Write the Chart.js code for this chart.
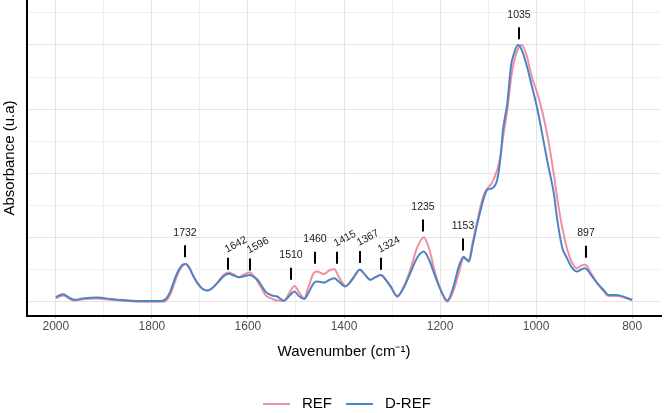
<!DOCTYPE html>
<html>
<head>
<meta charset="utf-8">
<script src="https://cdn.jsdelivr.net/npm/chart.js"></script>
<style>
  html, body { margin: 0; padding: 0; background: #fff; }
</style>
</head>
<body>
<canvas id="chart" width="664" height="413"></canvas>
<script>
// spectra, normalised so that the 1035 band = 1
const wavenumbers = [2000, 1985, 1970, 1961, 1944, 1913, 1885, 1850, 1816, 1781, 1771, 1762, 1753, 1744, 1736, 1730,
    1722, 1714, 1705, 1695, 1684, 1674, 1664, 1652, 1640, 1630, 1619, 1606, 1596, 1588, 1580, 1570, 1563, 1550, 1539,
    1525, 1514, 1503, 1494, 1483, 1474, 1463, 1456, 1442, 1430, 1420, 1411, 1397, 1382, 1367, 1356, 1345, 1334, 1323,
    1313, 1303, 1289, 1276, 1262, 1248, 1234, 1222, 1210, 1197, 1185, 1173, 1161, 1151, 1140, 1132, 1123, 1110, 1102,
    1092, 1081, 1074, 1069, 1060, 1052, 1047, 1038, 1030, 1019, 1010, 997, 987, 976, 962, 958, 946, 936, 925, 915, 907,
    898, 886, 873, 860, 849, 832, 815, 800];

const refValues = [0.014, 0.025, 0.010, 0.005, 0.010, 0.013, 0.008, 0.003, 0.000, 0.000, 0.004, 0.027, 0.073, 0.117,
    0.140, 0.147, 0.134, 0.103, 0.073, 0.051, 0.044, 0.054, 0.074, 0.103, 0.114, 0.107, 0.096, 0.109, 0.114, 0.101,
    0.079, 0.047, 0.025, 0.012, 0.005, 0.004, 0.035, 0.062, 0.039, 0.014, 0.058, 0.112, 0.118, 0.108, 0.123, 0.127,
    0.098, 0.062, 0.091, 0.125, 0.105, 0.086, 0.097, 0.105, 0.086, 0.060, 0.019, 0.058, 0.125, 0.210, 0.252, 0.202,
    0.112, 0.039, 0.000, 0.039, 0.112, 0.169, 0.163, 0.233, 0.311, 0.412, 0.440, 0.463, 0.514, 0.572, 0.638, 0.747,
    0.872, 0.926, 0.984, 1.000, 0.954, 0.883, 0.809, 0.739, 0.642, 0.482, 0.428, 0.292, 0.210, 0.152, 0.131, 0.140,
    0.144, 0.113, 0.074, 0.043, 0.023, 0.023, 0.016, 0.006];

const drefValues = [0.018, 0.030, 0.014, 0.008, 0.013, 0.017, 0.011, 0.005, 0.003, 0.003, 0.011, 0.039, 0.086, 0.125,
    0.144, 0.147, 0.132, 0.101, 0.073, 0.051, 0.044, 0.054, 0.073, 0.097, 0.109, 0.103, 0.096, 0.101, 0.105, 0.097,
    0.086, 0.058, 0.039, 0.025, 0.021, 0.004, 0.023, 0.040, 0.023, 0.011, 0.035, 0.073, 0.079, 0.075, 0.086, 0.092,
    0.079, 0.060, 0.089, 0.125, 0.105, 0.086, 0.097, 0.105, 0.086, 0.060, 0.023, 0.054, 0.112, 0.171, 0.196, 0.160,
    0.098, 0.039, 0.005, 0.054, 0.137, 0.176, 0.157, 0.222, 0.300, 0.397, 0.436, 0.442, 0.475, 0.564, 0.669, 0.774,
    0.922, 0.961, 1.000, 0.981, 0.916, 0.848, 0.747, 0.650, 0.541, 0.409, 0.346, 0.214, 0.171, 0.132, 0.118, 0.125,
    0.131, 0.105, 0.073, 0.047, 0.027, 0.027, 0.018, 0.008];

const xGridBreaks = [800, 900, 1000, 1100, 1200, 1300, 1400, 1500, 1600, 1700, 1800, 1900, 2000];
const xTickLabels = [800, 1000, 1200, 1400, 1600, 1800, 2000];
const yGridBreaks = [0, 0.125, 0.25, 0.375, 0.5, 0.625, 0.75, 0.875, 1, 1.125];
const yMajorBreaks = [0, 0.25, 0.5, 0.75, 1];

// band markers: label, height of the marker foot, slanted or not
const peakLabels = ['1732', '1642', '1596', '1510', '1460', '1415', '1367', '1324', '1235', '1153', '1035', '897'];
const peakHeights = [0.174, 0.125, 0.122, 0.086, 0.148, 0.148, 0.151, 0.125, 0.274, 0.200, 1.022, 0.172];
const peakSlanted = [false, true, true, false, false, true, true, true, false, false, false, false];

const seriesNames = ['REF', 'D-REF'];
const seriesColors = ['#ef8fa3', '#4f84c2'];

const FONT = "'Liberation Sans', Arial, sans-serif";
const GRID_MAJOR = '#e4e4e4';
const GRID_MINOR = '#f0f0f0';

function toPoints(values) {
    return wavenumbers.map((w, i) => ({x: w, y: values[i]}));
}

function isIn(list, v) {
    return list.some(b => Math.abs(b - v) < 1e-6);
}

const peakMarks = {
    id: 'peakMarks',
    afterDatasetsDraw(chart) {
        const ctx = chart.ctx;
        const x = chart.scales.x, y = chart.scales.y;
        ctx.save();
        ctx.strokeStyle = '#000';
        ctx.fillStyle = '#1a1a1a';
        ctx.lineWidth = 2;
        ctx.font = '10.5px ' + FONT;
        peakLabels.forEach((label, i) => {
            const px = Math.round(x.getPixelForValue(Number(label)));
            const foot = y.getPixelForValue(peakHeights[i]);
            const top = foot - 12;
            ctx.beginPath();
            ctx.moveTo(px, foot);
            ctx.lineTo(px, top);
            ctx.stroke();
            if (peakSlanted[i]) {
                ctx.save();
                ctx.translate(px - 1, top - 5);
                ctx.rotate(-28 * Math.PI / 180);
                ctx.textAlign = 'left';
                ctx.textBaseline = 'alphabetic';
                ctx.fillText(label, 0, 0);
                ctx.restore();
            } else {
                ctx.textAlign = 'center';
                ctx.textBaseline = 'middle';
                ctx.fillText(label, px, top - 12.5);
            }
        });
        ctx.restore();
    }
};

const bottomLegend = {
    id: 'bottomLegend',
    afterDraw(chart) {
        const ctx = chart.ctx;
        const yMid = 404;
        let cx = 263;
        ctx.save();
        ctx.font = '15px ' + FONT;
        ctx.textBaseline = 'middle';
        ctx.textAlign = 'left';
        seriesNames.forEach((name, i) => {
            ctx.strokeStyle = seriesColors[i];
            ctx.lineWidth = 2;
            ctx.beginPath();
            ctx.moveTo(cx, yMid);
            ctx.lineTo(cx + 27, yMid);
            ctx.stroke();
            ctx.fillStyle = '#000';
            ctx.fillText(name, cx + 39, yMid);
            cx += 39 + ctx.measureText(name).width + 14;
        });
        ctx.restore();
    }
};

new Chart(document.getElementById('chart'), {
    type: 'line',
    data: {
        datasets: [
            {label: seriesNames[0], data: toPoints(refValues), borderColor: seriesColors[0], order: 1},
            {label: seriesNames[1], data: toPoints(drefValues), borderColor: seriesColors[1], order: 0}
        ]
    },
    options: {
        responsive: false,
        animation: false,
        devicePixelRatio: 1,
        layout: {padding: {left: 0, right: 3, top: 0, bottom: 52.6}},
        elements: {
            line: {borderWidth: 2, cubicInterpolationMode: 'monotone', fill: false},
            point: {radius: 0, hoverRadius: 0}
        },
        scales: {
            x: {
                type: 'linear',
                reverse: true,
                min: 740,
                max: 2060,
                afterBuildTicks: s => { s.ticks = xGridBreaks.map(v => ({value: v})); },
                ticks: {
                    autoSkip: false,
                    maxRotation: 0,
                    padding: 0,
                    color: '#4d4d4d',
                    font: {family: FONT, size: 12},
                    callback: v => isIn(xTickLabels, v) ? String(v) : ''
                },
                grid: {
                    color: c => isIn(xTickLabels, c.tick.value) ? GRID_MAJOR : GRID_MINOR,
                    tickColor: c => isIn(xTickLabels, c.tick.value) ? '#c8c8c8' : GRID_MINOR,
                    tickLength: 3,
                    drawTicks: true
                },
                border: {display: true, color: '#000', width: 2},
                title: {
                    display: true,
                    text: 'Wavenumber (cm⁻¹)',
                    color: '#000',
                    font: {family: FONT, size: 15},
                    padding: {top: 9, bottom: 0}
                }
            },
            y: {
                type: 'linear',
                min: -0.055,
                max: 1.175,
                afterBuildTicks: s => { s.ticks = yGridBreaks.map(v => ({value: v})); },
                ticks: {display: false},
                grid: {
                    color: c => isIn(yMajorBreaks, c.tick.value) ? GRID_MAJOR : GRID_MINOR,
                    drawTicks: false
                },
                border: {display: true, color: '#000', width: 2},
                title: {
                    display: true,
                    text: 'Absorbance (u.a)',
                    color: '#000',
                    font: {family: FONT, size: 15},
                    padding: {top: 1, bottom: 8}
                }
            }
        },
        plugins: {
            legend: {display: false},
            tooltip: {enabled: false}
        }
    },
    plugins: [peakMarks, bottomLegend]
});
</script>
</body>
</html>
